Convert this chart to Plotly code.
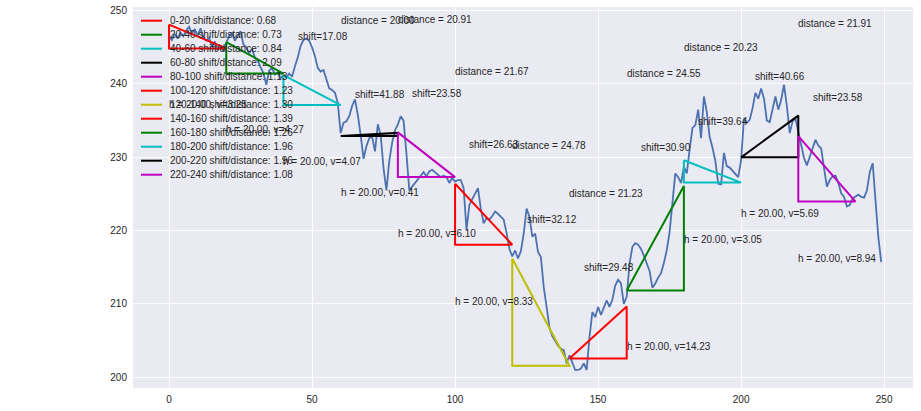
import math
import plotly.graph_objects as go

# ---- data ----
series_y = [
    246.5, 246.0, 246.8, 246.2, 247.0, 246.5, 247.3, 247.8, 246.9, 247.5,
    246.6, 247.6, 246.4, 245.9, 246.3, 245.1, 245.8, 244.6, 245.3, 244.5,
    245.6, 246.5, 247.0, 245.9, 246.6, 247.2, 245.4, 245.0, 244.2, 244.8,
    243.6, 243.2, 242.3, 241.5, 239.9, 241.8, 242.2, 241.3, 241.6, 240.8,
    241.2, 240.9, 241.4, 241.0, 242.4, 243.6, 245.2, 246.0, 246.2, 245.9,
    245.0, 243.8, 242.2, 241.7, 241.9, 240.5, 239.4, 239.2, 238.8, 237.4,
    233.3, 234.7, 234.9, 235.6, 237.0, 237.9, 235.8, 233.0, 229.8, 231.5,
    232.6, 232.8, 230.8, 234.5, 233.0, 228.5, 225.5, 229.5, 232.0, 233.7,
    234.5, 235.6, 235.0, 230.5, 225.5, 226.0, 226.5, 227.0, 227.5, 228.0,
    227.4, 228.1, 228.3, 228.0, 227.6, 227.3, 227.5, 227.3, 226.5, 227.2,
    226.7, 226.9, 226.9, 225.8, 220.1, 223.5, 224.3, 225.0, 225.8, 223.0,
    221.0, 221.7, 221.5, 222.0, 222.6, 222.3, 221.9, 221.5, 219.7, 217.5,
    216.5, 217.3, 216.2, 217.2, 219.6, 223.0, 221.9, 219.2, 219.6, 217.1,
    216.4, 212.3, 209.6, 206.8, 205.6, 205.0, 204.3, 203.9, 203.7, 201.9,
    203.0, 202.0, 201.0, 201.0, 201.2, 201.9, 201.0, 205.5, 208.9, 208.2,
    209.6, 208.5, 209.5, 210.5, 209.6, 210.6, 212.5, 213.3, 212.8, 210.0,
    211.0, 215.5, 217.8, 218.3, 218.1, 217.5, 216.6, 215.5, 214.5, 212.2,
    212.8, 213.6, 214.2, 215.6, 217.3, 219.8, 223.8, 227.8, 227.3, 226.5,
    228.7, 227.8, 231.0, 234.0, 234.4, 236.5, 232.6, 238.3, 236.2, 232.8,
    231.3, 229.5, 226.4, 226.3, 230.6, 228.8, 228.6, 228.2, 227.8, 227.3,
    229.6, 235.3, 234.7, 235.1, 236.7, 238.8, 238.0, 239.4, 238.0, 235.0,
    234.8, 236.4, 238.3, 236.5, 237.8, 239.9, 237.0, 233.3, 234.9, 235.3,
    233.5, 231.5, 229.9, 228.9, 230.0, 231.0, 232.4, 231.6, 231.2, 228.5,
    226.0, 226.9, 227.4, 227.5, 226.5, 225.1, 224.6, 223.3, 223.5, 224.4,
    224.7, 224.9, 224.6, 224.5, 225.5, 228.0, 229.2, 224.5, 219.0, 215.7,
]
series_x = list(range(len(series_y)))

seg_starts = [0, 20, 40, 60, 80, 100, 120, 140, 160, 180, 200, 220]
seg_len = 20
tri_start_y = [248.10, 245.70, 241.20, 232.92, 233.40, 226.40, 216.20, 202.55, 211.85, 229.60, 230.00, 232.90]
tri_end_y = [244.85, 241.43, 237.13, 233.33, 227.30, 218.07, 201.57, 209.67, 226.08, 226.55, 235.69, 223.96]
shifts = [13.78, 14.93, 17.08, 41.88, 23.58, 26.63, 32.12, 29.48, 30.90, 39.64, 40.66, 23.58]
seg_colors = ["#FF0000", "#008000", "#00BFBF", "#000000", "#BF00BF", "#FF0000",
              "#BFBF00", "#FF0000", "#008000", "#00BFBF", "#000000", "#BF00BF"]

x_ticks = [0, 50, 100, 150, 200, 250]
y_ticks = [200, 210, 220, 230, 240, 250]

# ---- layout constants ----
X_RANGE = [-12.6, 260.1]
Y_RANGE = [198.54, 250.5]
W, H = 921, 411
ML, MR, MT, MB = 133, 8, 7, 23
PW, PH = W - ML - MR, H - MT - MB
TXT = "#262626"
FONT = "Liberation Sans, Arial, sans-serif"

fig = go.Figure()
fig.add_trace(go.Scatter(x=series_x, y=series_y, mode="lines",
                         line=dict(color="#4C72B0", width=1.8), showlegend=False,
                         hoverinfo="skip"))

annotations = []
shapes = []

def add_label(x, y, text):
    if Y_RANGE[0] <= y <= Y_RANGE[1]:
        annotations.append(dict(x=x, y=y, xref="x", yref="y", text=text, showarrow=False,
                                xanchor="left", yanchor="middle", xshift=-2,
                                font=dict(size=10, color=TXT, family=FONT)))

for i, x0 in enumerate(seg_starts):
    x1 = x0 + seg_len
    y0, y1 = tri_start_y[i], tri_end_y[i]
    cx = x0 if y0 > y1 else x1
    cy = min(y0, y1)
    fig.add_trace(go.Scatter(x=[x0, x1, cx, x0], y=[y0, y1, cy, y0], mode="lines",
                             line=dict(color=seg_colors[i], width=2), showlegend=False,
                             hoverinfo="skip"))
    v = abs(y1 - y0)
    dist = math.sqrt(seg_len ** 2 + v ** 2)
    top = max(y0, y1)
    add_label(x0, cy - 7.7, f"h = {seg_len:.2f}, v={v:.2f}")
    add_label(x0 + 5, top + 5.3, f"shift={shifts[i]:.2f}")
    add_label(x0, top + 15.35, f"distance = {dist:.2f}")

# manual legend (matplotlib-like compact spacing)
for i, x0 in enumerate(seg_starts):
    v = abs(tri_end_y[i] - tri_start_y[i])
    dist = math.sqrt(seg_len ** 2 + v ** 2)
    ratio = shifts[i] / dist
    py = 20.7 + i * 14
    yp = 1 - (py - MT) / PH
    shapes.append(dict(type="line", xref="paper", yref="paper",
                       x0=(141 - ML) / PW, x1=(162 - ML) / PW, y0=yp, y1=yp,
                       line=dict(color=seg_colors[i], width=2)))
    annotations.append(dict(x=(168 - ML) / PW, y=yp, xref="paper", yref="paper",
                            text=f"{x0}-{x0 + seg_len} shift/distance: {ratio:.2f}",
                            showarrow=False, xanchor="left", yanchor="middle",
                            font=dict(size=10, color=TXT, family=FONT)))

fig.update_layout(
    width=W, height=H,
    margin=dict(l=ML, r=MR, t=MT, b=MB),
    paper_bgcolor="white", plot_bgcolor="#EAEAF2",
    font=dict(family=FONT, size=10, color=TXT),
    showlegend=False,
    annotations=annotations, shapes=shapes,
    xaxis=dict(range=X_RANGE, tickvals=x_ticks, showgrid=True, gridcolor="white",
               gridwidth=1, zeroline=False, showline=False, ticks="",
               ticklabelstandoff=4, automargin=False,
               tickfont=dict(size=10, color=TXT)),
    yaxis=dict(range=Y_RANGE, tickvals=y_ticks, showgrid=True, gridcolor="white",
               gridwidth=1, zeroline=False, showline=False, ticks="",
               ticklabelstandoff=5, automargin=False,
               tickfont=dict(size=10, color=TXT)),
)

fig.write_html("out.html", config={"displayModeBar": False},
               post_script="document.body.style.margin='0';")
